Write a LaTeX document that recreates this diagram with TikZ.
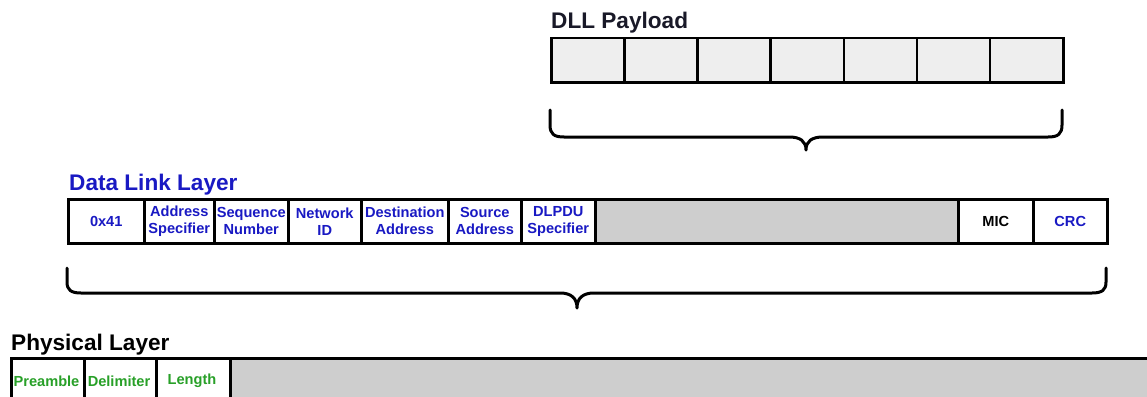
\documentclass[tikz,border=0pt]{standalone}
\usepackage{fontspec}
\setmainfont{Liberation Sans}
\definecolor{dlblue}{RGB}{25,25,195}
\definecolor{phgreen}{RGB}{40,160,40}
\definecolor{paygrey}{RGB}{238,238,238}
\definecolor{fillgrey}{RGB}{206,206,206}
\definecolor{titledark}{RGB}{25,25,40}
\tikzset{
  cellbox/.style={draw=black, line width=2.5pt, inner sep=0pt, anchor=north west, align=center,
    font=\fontsize{14.6}{17}\selectfont\bfseries},
  paycell/.style={cellbox, fill=paygrey, minimum width=73.1pt, minimum height=44pt},
  dlcell/.style={cellbox, fill=white, text=dlblue, minimum height=44pt},
  phcell/.style={cellbox, fill=white, text=phgreen, minimum height=60pt},
  greycell/.style={cellbox, fill=fillgrey},
  phtext/.style={text=phgreen, font=\fontsize{14.6}{17}\selectfont\bfseries, inner sep=0pt},
  titletext/.style={anchor=base west, inner sep=0pt, font=\fontsize{22.6}{26}\selectfont\bfseries},
  bracepath/.style={draw=black, line width=3pt, line cap=round, line join=round}
}
\begin{document}
\begin{tikzpicture}[x=1pt,y=-1pt]
\clip (0,0) rectangle (1147,396);
\fill[white] (0,0) rectangle (1147,396);

% DLL Payload
\node[titletext, text=titledark] (paytitle) at (551,29) {DLL Payload};
\node[paycell] (p1) at (550,37) {};
\node[paycell] (p2) at (623.1,37) {};
\node[paycell] (p3) at (696.3,37) {};
\node[paycell] (p4) at (769.4,37) {};
\node[paycell] (p5) at (842.6,37) {};
\node[paycell] (p6) at (915.7,37) {};
\node[paycell] (p7) at (988.9,37) {};

% brace 1
\coordinate (b1l) at (550,110);
\coordinate (b1r) at (1062,110);
\coordinate (b1t) at (806,150);
\draw[bracepath] (b1l) -- (550,125) .. controls (550,134) and (554,137) .. (564,137)
  -- (789,137) .. controls (800,137) and (806,141) .. (b1t)
  .. controls (806,141) and (812,137) .. (823,137)
  -- (1048,137) .. controls (1058,137) and (1062,134) .. (1062,125) -- (b1r);

% Data Link Layer
\node[titletext, text=dlblue] (dltitle) at (69,190) {Data Link Layer};
\node[dlcell, minimum width=76pt] (d1) at (67,198) {0x41};
\node[dlcell, minimum width=70pt] (d2) at (143,198) {Address\\Specifier};
\node[dlcell, minimum width=74pt] (d3) at (213,198) {Sequence\\Number};
\node[dlcell, minimum width=73pt] (d4) at (287,198) {Network\\ID};
\node[dlcell, minimum width=87pt] (d5) at (360,198) {Destination\\Address};
\node[dlcell, minimum width=73pt] (d6) at (447,198) {Source\\Address};
\node[dlcell, minimum width=74pt] (d7) at (520,198) {DLPDU\\Specifier};
\node[greycell, minimum width=363pt, minimum height=44pt] (d8) at (594,198) {};
\node[dlcell, text=black, minimum width=75pt] (d9) at (957,198) {MIC};
\node[dlcell, minimum width=74pt] (d10) at (1032,198) {CRC};

% brace 2
\coordinate (b2l) at (67,268);
\coordinate (b2r) at (1106,268);
\coordinate (b2t) at (577,308);
\draw[bracepath] (b2l) -- (67,282) .. controls (67,290) and (71,293) .. (81,293)
  -- (560,293) .. controls (571,293) and (577,298) .. (b2t)
  .. controls (577,298) and (583,293) .. (594,293)
  -- (1092,293) .. controls (1102,293) and (1106,290) .. (1106,282) -- (b2r);

% Physical Layer
\node[titletext, text=black] (phtitle) at (11,350) {Physical Layer};
\node[phcell, minimum width=73pt] (h1) at (10,357) {};
\node[phcell, minimum width=72pt] (h2) at (83,357) {};
\node[phcell, minimum width=74pt] (h3) at (155,357) {};
\node[greycell, minimum width=940pt, minimum height=60pt] (h4) at (229,357) {};
\node[phtext] (t1) at (46.5,381) {Preamble};
\node[phtext] (t2) at (119,381) {Delimiter};
\node[phtext] (t3) at (192,381) {Length};
\end{tikzpicture}
\end{document}
